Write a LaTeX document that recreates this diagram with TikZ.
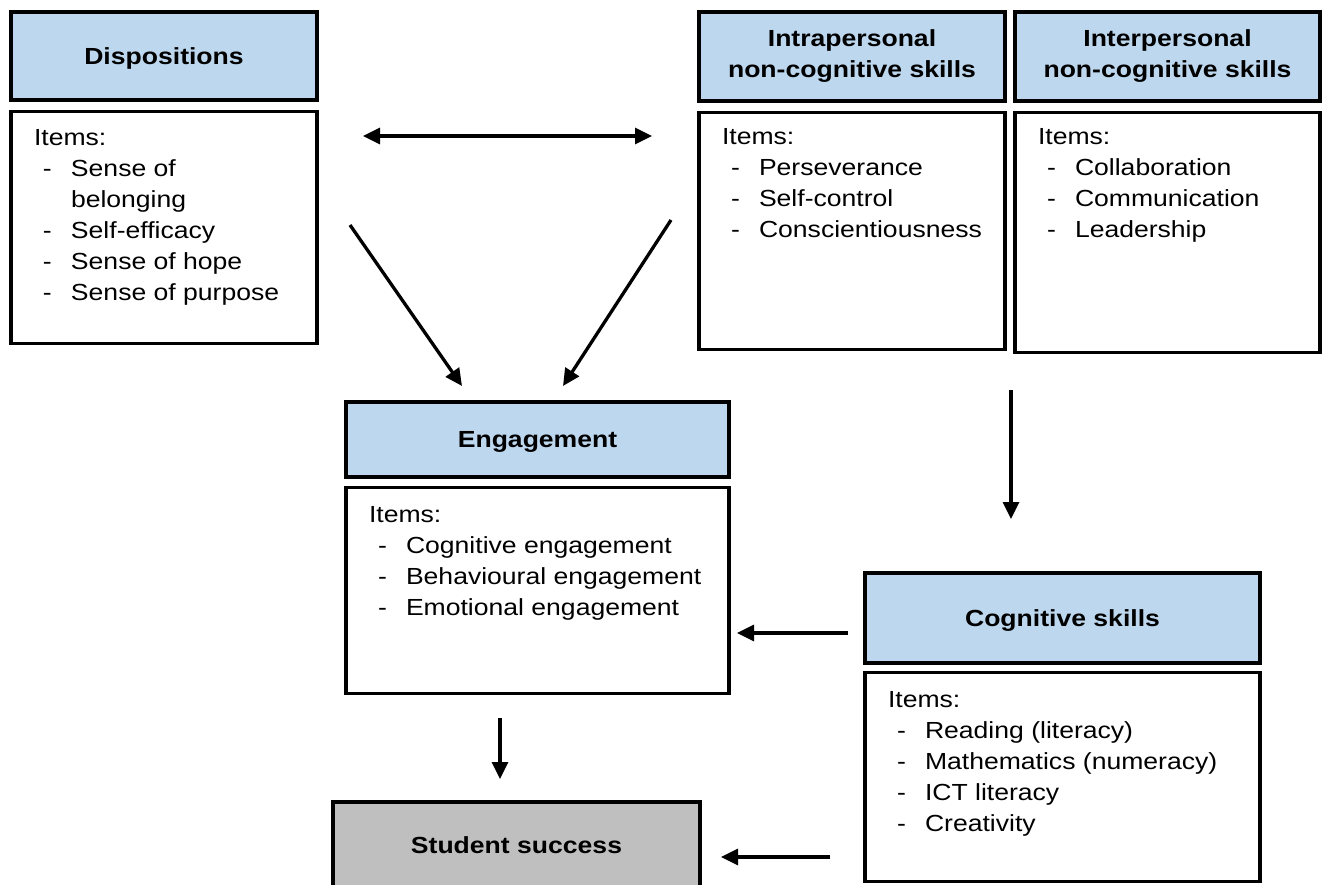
\documentclass[tikz,border=0pt]{standalone}
\usepackage{fontspec}
\setmainfont{Liberation Sans}[FakeStretch=1.14]
\usetikzlibrary{positioning,arrows.meta}
\definecolor{hdrblue}{RGB}{189,215,238}
\definecolor{succgray}{RGB}{191,191,191}
\newcommand{\diafont}{\fontsize{23.3}{31}\selectfont}
\newcommand{\itm}[1]{\makebox[37pt][l]{\hspace*{9pt}-}#1}

\begin{document}
\begin{tikzpicture}[x=1pt,y=-1pt,line width=3.3pt,
    hdr/.style={rectangle,draw,fill=hdrblue,align=center,font=\diafont\bfseries},
    body/.style={rectangle,draw},
    items/.style={anchor=north west,inner sep=0pt,align=left,font=\diafont},
    arr/.style={-{Triangle[length=17pt,width=16pt]}},
    dblarr/.style={{Triangle[length=17pt,width=16pt]}-{Triangle[length=17pt,width=16pt]}}]
    \useasboundingbox (0,0) rectangle (1325,885);
    % top row
    \node[hdr,text depth=0pt,minimum width=306pt,minimum height=88pt] (disp-hd) at (164,56) {Dispositions};
    \node[body,minimum width=306pt,minimum height=232pt,below=8pt of disp-hd] (disp-body) {};
    \node[items] (disp-txt) at ([shift={(23pt,-18pt)}]disp-body.north west)
      {Items:\\ \itm{Sense of}\\ \hspace*{37pt}belonging\\ \itm{Self-efficacy}\\ \itm{Sense of hope}\\ \itm{Sense of purpose}};
    \node[hdr,minimum width=306pt,minimum height=89pt] (intra-hd) at (852,56.5) {Intrapersonal\\non-cognitive skills};
    \node[body,minimum width=306pt,minimum height=237pt,below=8pt of intra-hd] (intra-body) {};
    \node[items] (intra-txt) at ([shift={(23pt,-16pt)}]intra-body.north west)
      {Items:\\ \itm{Perseverance}\\ \itm{Self-control}\\ \itm{Conscientiousness}};
    \node[hdr,minimum width=305pt,minimum height=89pt] (inter-hd) at (1167.5,56.5) {Interpersonal\\non-cognitive skills};
    \node[body,minimum width=305pt,minimum height=240pt,below=8pt of inter-hd] (inter-body) {};
    \node[items] (inter-txt) at ([shift={(23pt,-16pt)}]inter-body.north west)
      {Items:\\ \itm{Collaboration}\\ \itm{Communication}\\ \itm{Leadership}};
    % middle and bottom
    \node[hdr,text depth=0pt,minimum width=383pt,minimum height=75pt] (eng-hd) at (537.5,439.5) {Engagement};
    \node[body,minimum width=383pt,minimum height=206pt,below=7pt of eng-hd] (eng-body) {};
    \node[items] (eng-txt) at ([shift={(23pt,-19pt)}]eng-body.north west)
      {Items:\\ \itm{Cognitive engagement}\\ \itm{Behavioural engagement}\\ \itm{Emotional engagement}};
    \node[hdr,text depth=0pt,minimum width=395pt,minimum height=90pt] (cog-hd) at (1062.5,618) {Cognitive skills};
    \node[body,minimum width=395pt,minimum height=209pt,below=6pt of cog-hd] (cog-body) {};
    \node[items] (cog-txt) at ([shift={(23pt,-19pt)}]cog-body.north west)
      {Items:\\ \itm{Reading (literacy)}\\ \itm{Mathematics (numeracy)}\\ \itm{ICT literacy}\\ \itm{Creativity}};
    \node[hdr,fill=succgray,minimum width=367pt,minimum height=86pt] (succ) at (516.5,845) {Student success};
    % arrows
    \coordinate (dd-l) at (363,136);
    \coordinate (dd-r) at (652,136);
    \coordinate (de-s) at (350,225);
    \coordinate (de-e) at (462,386);
    \coordinate (ie-s) at (671,220);
    \coordinate (ie-e) at (563,386);
    \coordinate (ic-s) at (1011,390);
    \coordinate (ic-e) at (1011,519);
    \coordinate (ce-s) at (848,633);
    \coordinate (ce-e) at (737,633);
    \coordinate (es-s) at (500,718);
    \coordinate (es-e) at (500,779);
    \coordinate (cs-s) at (830,857);
    \coordinate (cs-e) at (721,857);
    \draw[dblarr] (dd-l) -- (dd-r);
    \draw[arr] (de-s) -- (de-e);
    \draw[arr] (ie-s) -- (ie-e);
    \draw[arr] (ic-s) -- (ic-e);
    \draw[arr] (ce-s) -- (ce-e);
    \draw[arr] (es-s) -- (es-e);
    \draw[arr] (cs-s) -- (cs-e);
  \end{tikzpicture}
\end{document}
